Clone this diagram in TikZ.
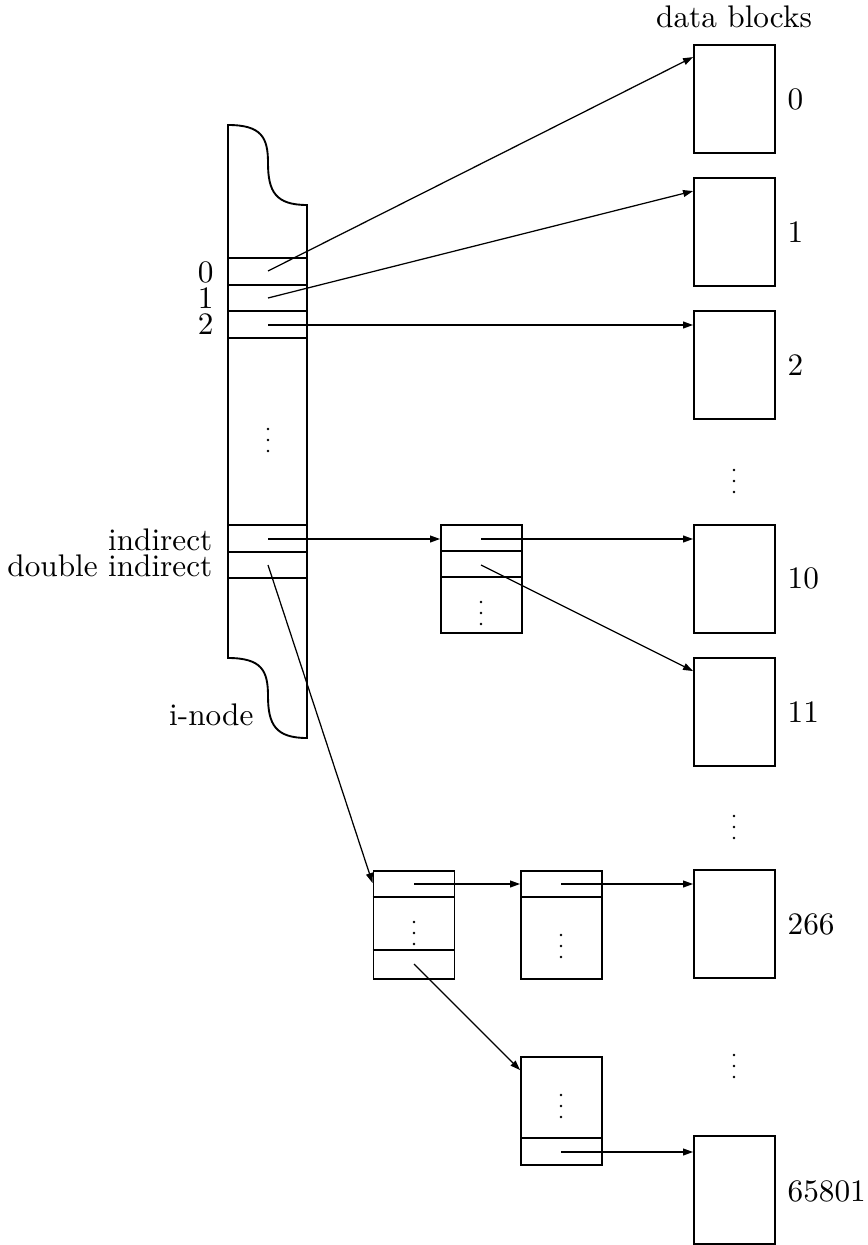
\documentclass[tikz,border=0pt]{standalone}
\usetikzlibrary{arrows.meta,calc}
\begin{document}
\begin{tikzpicture}[x=0.32pt,y=-0.32pt,
  box/.style={draw,line width=0.6pt},
  blk/.style={box,minimum width=25.92pt,minimum height=34.56pt,inner sep=0pt},
  ptr/.style={line width=0.4pt,-{Triangle[length=3.2pt,width=2.2pt]}},
  lbl/.style={inner sep=0pt,text height=6pt,text depth=0pt},
  vdotsmark/.pic={\foreach \k in {-11,0,11} \fill (0,\k) circle[radius=0.45pt];}]

\useasboundingbox (0,0) rectangle (867,1245);

% ---------- i-node ----------
\draw[box] (228,125) .. controls (262,125) and (268,138) .. (268,163)
  .. controls (268,192) and (276,205) .. (307,205)
  -- (307,738)
  .. controls (276,738) and (268,725) .. (268,696)
  .. controls (268,671) and (262,658) .. (228,658) -- cycle;
\foreach \yy in {258,285,311,338,525,552,578}
  \draw[box] (228,\yy) -- (307,\yy);
\pic at (268,440) {vdotsmark};

\node[lbl,anchor=east] (n0lbl) at (214,273) {0};
\node[lbl,anchor=east] (n1lbl) at (214,299) {1};
\node[lbl,anchor=east] (n2lbl) at (214,325) {2};
\node[lbl,anchor=east] (indlbl) at (213,541) {indirect};
\node[lbl,anchor=east] (dbllbl) at (213,567) {double indirect};
\node[lbl,anchor=east] (inodelbl) at (254,716) {i-node};

\coordinate (i0) at (268,271);
\coordinate (i1) at (268,298);
\coordinate (i2) at (268,325);
\coordinate (i3) at (268,539);
\coordinate (i4) at (268,565);

% ---------- data blocks ----------
\node[lbl] (dbtitle) at (734,18) {data blocks};
\node[blk] (b0) at (734.5,99) {};
\node[blk] (b1) at (734.5,232) {};
\node[blk] (b2) at (734.5,365) {};
\node[blk] (b10) at (734.5,579) {};
\node[blk] (b11) at (734.5,712) {};
\node[blk] (b266) at (734.5,924) {};
\node[blk] (b65801) at (734.5,1190) {};

\node[lbl,anchor=west] (l0) at (787,100) {0};
\node[lbl,anchor=west] (l1) at (787,233) {1};
\node[lbl,anchor=west] (l2) at (787,366) {2};
\node[lbl,anchor=west] (l10) at (787,579) {10};
\node[lbl,anchor=west] (l11) at (787,713) {11};
\node[lbl,anchor=west] (l266) at (787,925) {266};
\node[lbl,anchor=west] (l65801) at (787,1192) {65801};

\pic at (734,481) {vdotsmark};
\pic at (734,827) {vdotsmark};
\pic at (734,1066) {vdotsmark};

% ---------- indirect blocks ----------
\node[blk] (ind) at (481.5,579) {};
\node[blk] (d1) at (414,925) {};
\node[blk] (d2) at (561.5,925) {};
\node[blk] (d3) at (561.5,1111) {};

\draw[box] ($(ind.north west)+(0,27)$) -- ($(ind.north east)+(0,27)$);
\draw[box] ($(ind.north west)+(0,53)$) -- ($(ind.north east)+(0,53)$);
\draw[box] ($(d1.north west)+(0,27)$) -- ($(d1.north east)+(0,27)$);
\draw[box] ($(d1.north west)+(0,80)$) -- ($(d1.north east)+(0,80)$);
\draw[box] ($(d2.north west)+(0,27)$) -- ($(d2.north east)+(0,27)$);
\draw[box] ($(d3.north west)+(0,82)$) -- ($(d3.north east)+(0,82)$);

\pic at (481,613) {vdotsmark};
\pic at (414,933) {vdotsmark};
\pic at (561,946) {vdotsmark};
\pic at (561,1106) {vdotsmark};

\coordinate (n0) at (481,539);
\coordinate (n1) at (481,565);
\coordinate (e0) at (414,884);
\coordinate (e2) at (414,964);
\coordinate (f0) at (561,884);
\coordinate (g1) at (561,1152);

% ---------- pointers ----------
\draw[ptr] (i0) -- ($(b0.north west)+(0,13)$);
\draw[ptr] (i1) -- ($(b1.north west)+(0,14)$);
\draw[ptr] (i2) -- (i2 -| b2.west);
\draw[ptr] (i3) -- (i3 -| ind.west);
\draw[ptr] (i4) -- ($(d1.north west)+(0,13)$);
\draw[ptr] (n0) -- (n0 -| b10.west);
\draw[ptr] (n1) -- ($(b11.north west)+(0,14)$);
\draw[ptr] (e0) -- (e0 -| d2.west);
\draw[ptr] (f0) -- (f0 -| b266.west);
\draw[ptr] (e2) -- ($(d3.north west)+(0,14)$);
\draw[ptr] (g1) -- (g1 -| b65801.west);
\end{tikzpicture}
\end{document}
